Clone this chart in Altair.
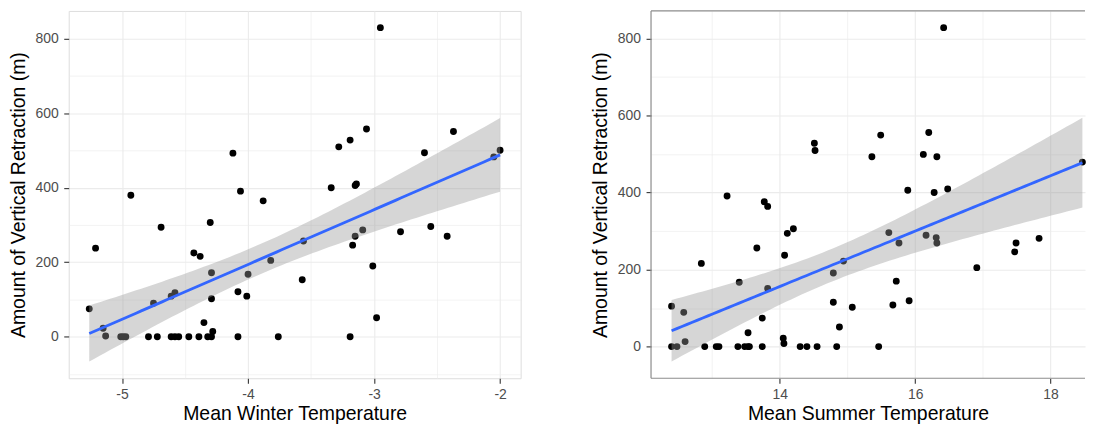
import altair as alt
import pandas as pd
import numpy as np

# ---- data ----
winter_temp = [-5.26, -5.21, -5.15, -5.13, -5.01, -4.99, -4.97, -4.93, -4.79, -4.75,
               -4.72, -4.69, -4.61, -4.58, -4.61, -4.58, -4.55, -4.47, -4.43, -4.39,
               -4.38, -4.35, -4.32, -4.30, -4.29, -4.29, -4.29, -4.28, -4.12, -4.08,
               -4.08, -4.06, -4.01, -4.00, -3.88, -3.82, -3.76, -3.57, -3.56, -3.34,
               -3.28, -3.19, -3.19, -3.17, -3.15, -3.15, -3.14, -3.09, -3.06, -3.01,
               -2.98, -2.95, -2.79, -2.60, -2.55, -2.42, -2.37, -2.05, -2.00]
winter_retr = [75, 238, 23, 2, 0, 0, 0, 380, 0, 90,
               0, 294, 109, 118, 0, 0, 0, 0, 225, 0,
               216, 38, 0, 307, 172, 102, 0, 14, 493, 121,
               0, 391, 109, 168, 365, 205, 0, 153, 257, 400,
               510, 528, 0, 246, 270, 406, 410, 287, 558, 190,
               51, 830, 282, 494, 296, 270, 551, 483, 501]

summer_temp = [12.40, 12.40, 12.48, 12.58, 12.60, 12.84, 12.89, 13.06, 13.10, 13.22,
               13.38, 13.40, 13.48, 13.53, 13.53, 13.55, 13.66, 13.74, 13.74, 13.77,
               13.82, 13.82, 14.05, 14.06, 14.07, 14.11, 14.20, 14.30, 14.40, 14.51,
               14.52, 14.55, 14.79, 14.79, 14.84, 14.88, 14.94, 15.07, 15.36, 15.46,
               15.49, 15.61, 15.67, 15.72, 15.76, 15.89, 15.91, 16.12, 16.16, 16.20,
               16.28, 16.31, 16.32, 16.32, 16.42, 16.48, 16.91, 17.47, 17.49, 17.83,
               18.47]
summer_retr = [105, 0, 0, 89, 13, 216, 0, 0, 0, 391,
               0, 167, 0, 36, 0, 0, 256, 74, 0, 376,
               364, 151, 22, 8, 237, 294, 306, 0, 0, 528,
               509, 0, 191, 115, 0, 51, 222, 102, 493, 0,
               549, 296, 108, 170, 269, 406, 119, 499, 289, 556,
               400, 283, 269, 493, 828, 409, 205, 246, 269, 281,
               479]

winter_ticks = [-5, -4.5, -4, -3.5, -3, -2.5, -2]
summer_ticks = [13, 14, 15, 16, 17, 18]
y_ticks = [-100, 0, 100, 200, 300, 400, 500, 600, 700, 800]

FONT = "Liberation Sans"
T_CRIT = 2.002  # 95% t quantile, ~57 df
BORDER = "#8c8c8c"
H = 369
W_LEFT = 454
W_RIGHT = 436


def fit_band(x, y, n=80):
    x = np.asarray(x, float)
    y = np.asarray(y, float)
    b, a = np.polyfit(x, y, 1)
    resid = y - (a + b * x)
    s = np.sqrt((resid ** 2).sum() / (len(x) - 2))
    xbar = x.mean()
    sxx = ((x - xbar) ** 2).sum()
    xs = np.linspace(x.min(), x.max(), n)
    yh = a + b * xs
    se = s * np.sqrt(1 / len(x) + (xs - xbar) ** 2 / sxx)
    return pd.DataFrame({"x": xs, "fit": yh, "lo": yh - T_CRIT * se, "hi": yh + T_CRIT * se})


def expand(lo, hi, f=0.05):
    r = hi - lo
    return [lo - f * r, hi + f * r]


def make_axis(title, values, major_test, is_y):
    cond_w = {"condition": {"test": major_test, "value": 1.1}, "value": 0.6}
    cond_t = {"condition": {"test": major_test, "value": 1}, "value": 0}
    return alt.Axis(
        title=title, values=values, grid=True, gridColor="#ebebeb",
        gridWidth=cond_w, tickOpacity=cond_t, tickColor="#333333",
        tickSize=5, tickWidth=1.1, domain=False,
        labelExpr=f"({major_test}) ? '' + datum.value : ''",
        labelFont=FONT, labelFontSize=14, labelColor="#4d4d4d",
        labelPadding=5.5 if is_y else 4, labelFlush=False, labelOverlap=False,
        titleFont=FONT, titleFontSize=19.5, titleFontWeight="normal",
        titleColor="black", titlePadding=6.5 if is_y else 3,
    )


def panel(xv, yv, xtitle, xticks, xmajor, width, xmax=None, open_right=False):
    df = pd.DataFrame({"x": xv, "y": yv})
    band = fit_band(xv, yv)
    xdom = expand(min(xv), max(xv))
    if xmax is not None:
        xdom = [xdom[0], xdom[0] + (xdom[1] - xdom[0]) * width / W_LEFT]
    ydom = expand(min(min(yv), band["lo"].min()), max(max(yv), band["hi"].max()))
    xs = alt.Scale(domain=xdom, nice=False, zero=False)
    ys = alt.Scale(domain=ydom, nice=False, zero=False)
    xaxis = make_axis(xtitle, xticks, xmajor, False)
    yaxis = make_axis("Amount of Vertical Retraction (m)", y_ticks,
                      "datum.value % 200 == 0", True)

    pts = alt.Chart(df).mark_circle(size=48, color="black", opacity=1).encode(
        x=alt.X("x:Q", scale=xs, axis=xaxis),
        y=alt.Y("y:Q", scale=ys, axis=yaxis),
    )
    ribbon = alt.Chart(band).mark_area(color="#999999", opacity=0.4).encode(
        x=alt.X("x:Q", scale=xs),
        y=alt.Y("lo:Q", scale=ys),
        y2="hi:Q",
    )
    line = alt.Chart(band).mark_line(color="#3366FF", strokeWidth=2.8).encode(
        x=alt.X("x:Q", scale=xs),
        y=alt.Y("fit:Q", scale=ys),
    )
    layers = [pts, ribbon, line]
    props = dict(width=width, height=H)
    if open_right:
        dummy = pd.DataFrame({"k": [0]})
        rule = alt.Chart(dummy).mark_rule(color=BORDER, strokeWidth=1.2)
        layers += [
            rule.encode(x=alt.value(0), x2=alt.value(width), y=alt.value(0)),
            rule.encode(x=alt.value(0), x2=alt.value(width), y=alt.value(H)),
            rule.encode(x=alt.value(0), y=alt.value(0), y2=alt.value(H)),
        ]
        props["view"] = alt.ViewBackground(stroke="transparent")
    return alt.layer(*layers).properties(**props)


left = panel(winter_temp, winter_retr, "Mean Winter Temperature", winter_ticks,
             "abs(datum.value % 1) < 0.01", W_LEFT)
right = panel(summer_temp, summer_retr, "Mean Summer Temperature", summer_ticks,
              "datum.value % 2 == 0", W_RIGHT, xmax=True, open_right=True)

chart = alt.hconcat(left, right, spacing=69).properties(
    padding={"left": 0, "top": 0, "right": 0, "bottom": 0}
).configure_view(stroke=BORDER, strokeWidth=1.2).configure(background="white")

chart.save("out.html", embed_options={"renderer": "svg", "actions": False})
